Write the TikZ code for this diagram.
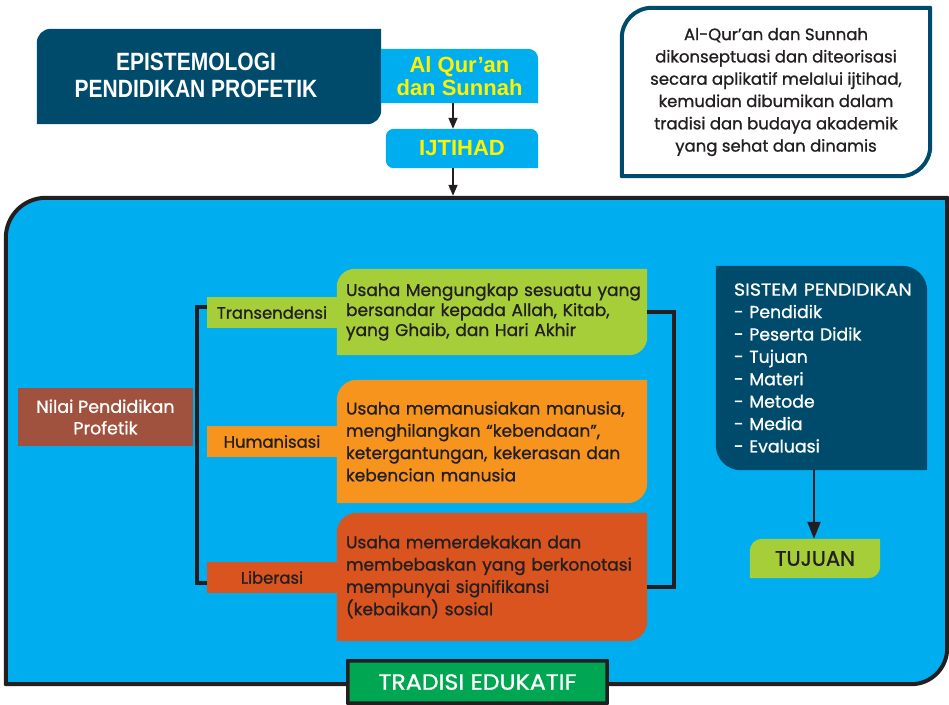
\documentclass[tikz,border=0pt]{standalone}
\usepackage{fontspec}
\setmainfont{Poppins}[UprightFeatures={FakeBold=1}]
\newfontfamily\headfont[FakeStretch=0.84]{Liberation Sans}
\newfontfamily\yelfont{Liberation Sans}
\usetikzlibrary{calc,arrows.meta}
\definecolor{dteal}{HTML}{004B6B}
\definecolor{cyanb}{HTML}{00AEEF}
\definecolor{yel}{HTML}{FFF200}
\definecolor{lgreen}{HTML}{A6CE39}
\definecolor{orng}{HTML}{F7941D}
\definecolor{dorng}{HTML}{D9541E}
\definecolor{brwn}{HTML}{A0523F}
\definecolor{tgreen}{HTML}{00A651}
\definecolor{ink}{HTML}{231F20}
\pgfdeclarelayer{bg}
\pgfsetlayers{bg,main}
\newcommand\cornerbox[6]{%
  \path[#2] ($(#1.north west)+(0,-#3)$) arc[start angle=180,end angle=90,radius=#3]
   -- ($(#1.north east)+(-#4,0)$) arc[start angle=90,end angle=0,radius=#4]
   -- ($(#1.south east)+(0,#5)$) arc[start angle=0,end angle=-90,radius=#5]
   -- ($(#1.south west)+(#6,0)$) arc[start angle=270,end angle=180,radius=#6]
   -- cycle;}
\begin{document}
\begin{tikzpicture}[x=1pt,y=1pt,
  shp/.style n args={2}{inner sep=0pt, minimum width=#1, minimum height=#2},
  arr/.style={-{Triangle[width=9pt,length=11pt]}, line width=1.6pt, draw=ink},
  bigarr/.style={-{Triangle[width=13pt,length=17pt]}, line width=2.2pt, draw=ink},
  brk/.style={line width=3.5pt, draw=ink, line join=miter},
  desc/.style={text=ink, align=left, text width=292pt, font=\fontsize{17}{22.3}\selectfont},
  lab/.style={text=ink, font=\fontsize{16.4}{19}\selectfont}]
\useasboundingbox (0,0) rectangle (949,-704);

% nodes
\node[shp={344pt}{95pt}, text=white, align=center, font=\headfont\bfseries\fontsize{25}{27}\selectfont] (epi) at (209,-76.5) {\raisebox{3pt}{\hspace*{-26pt}EPISTEMOLOGI}\\\raisebox{3pt}{\hspace*{-26pt}PENDIDIKAN PROFETIK}};
\node[shp={157pt}{54pt}, text=yel, align=center, font=\yelfont\bfseries\fontsize{22}{23}\selectfont] (quran) at (459.5,-76) {Al Qur’an\\dan Sunnah};
\node[shp={152pt}{39pt}, text=yel, font=\yelfont\bfseries\fontsize{22}{23}\selectfont] (ijtihad) at (462,-148.5) {IJTIHAD};
\node[shp={308pt}{168pt}, text=ink, align=center, font=\fontsize{16.5}{22.3}\selectfont] (callout) at (776,-92) {Al-Qur’an dan Sunnah\\dikonseptuasi dan diteorisasi\\secara aplikatif melalui ijtihad,\\kemudian dibumikan dalam\\tradisi dan budaya akademik\\yang sehat dan dinamis};
\node[shp={941pt}{486pt}] (big) at (476.5,-441) {};
\node[shp={175pt}{58pt}, text=white, align=center, font=\fontsize{17.5}{21.5}\selectfont] (nilai) at (105.5,-417) {Nilai Pendidikan\\Profetik};
\node[shp={130pt}{31pt}, lab] (tlab) at (272,-312.5) {Transendensi};
\node[shp={130pt}{31pt}, lab] (hlab) at (272,-441.5) {Humanisasi};
\node[shp={130pt}{31pt}, lab] (llab) at (272,-577.5) {Liberasi};
\node[shp={310pt}{86pt}, desc, font=\fontsize{17}{20}\selectfont] (tbox) at (492,-312) {\mbox{Usaha Mengungkap sesuatu yang}\\\mbox{bersandar kepada Allah, Kitab,}\\\mbox{yang Ghaib, dan Hari Akhir}};
\node[shp={310pt}{123pt}, desc] (hbox) at (492,-441.5) {\mbox{Usaha memanusiakan manusia,}\\\mbox{menghilangkan “kebendaan”,}\\\mbox{ketergantungan, kekerasan dan}\\\mbox{kebencian manusia}};
\node[shp={310pt}{128pt}, desc] (lbox) at (492,-577) {\raisebox{3pt}{\mbox{Usaha memerdekakan dan}}\\\raisebox{3pt}{\mbox{membebaskan yang berkonotasi}}\\\raisebox{3pt}{\mbox{mempunyai signifikansi}}\\\raisebox{3pt}{\mbox{(kebaikan) sosial}}};
\node[shp={211pt}{204pt}, text=white, align=left, text width=175pt, font=\fontsize{17.3}{22.4}\selectfont] (sistem) at (821.5,-368) {\mbox{\scalebox{1.1}[1]{SISTEM PENDIDIKAN}}\\- Pendidik\\- Peserta Didik\\- Tujuan\\- Materi\\- Metode\\- Media\\- Evaluasi};
\node[shp={130pt}{39pt}, text=ink, font=\fontsize{21}{22}\selectfont] (tujuan) at (815,-558.5) {TUJUAN};
\node[shp={259pt}{42pt}, text=white, font=\fontsize{22}{22}\selectfont] (tradisi) at (477.5,-682) {\scalebox{1.08}[1]{TRADISI EDUKATIF}};

% shapes
\begin{pgfonlayer}{bg}
\cornerbox{big}{fill=cyanb, draw=ink, line width=4pt}{40pt}{0.01pt}{36pt}{0.01pt}
\cornerbox{epi}{fill=dteal}{14pt}{0.01pt}{14pt}{0.01pt}
\cornerbox{quran}{fill=cyanb}{0.01pt}{10pt}{0.01pt}{0.01pt}
\cornerbox{ijtihad}{fill=cyanb}{8pt}{8pt}{0.01pt}{8pt}
\cornerbox{callout}{fill=white, draw=dteal, line width=4pt}{30pt}{0.01pt}{30pt}{0.01pt}
\fill[brwn] (nilai.south west) rectangle (nilai.north east);
\fill[lgreen] (tlab.south west) rectangle (tlab.north east);
\fill[orng] (hlab.south west) rectangle (hlab.north east);
\fill[dorng] (llab.south west) rectangle (llab.north east);
\cornerbox{tbox}{fill=lgreen}{18pt}{0.01pt}{18pt}{0.01pt}
\cornerbox{hbox}{fill=orng}{20pt}{0.01pt}{20pt}{0.01pt}
\cornerbox{lbox}{fill=dorng}{20pt}{0.01pt}{20pt}{0.01pt}
\cornerbox{sistem}{fill=dteal}{0.01pt}{25pt}{0.01pt}{25pt}
\cornerbox{tujuan}{fill=lgreen}{12pt}{0.01pt}{12pt}{0.01pt}
\cornerbox{tradisi}{fill=tgreen, draw=ink, line width=3.5pt}{0.01pt}{0.01pt}{0.01pt}{0.01pt}
\end{pgfonlayer}

% connectors
\draw[arr] ([xshift=-6.5pt]quran.south) -- ([xshift=-9pt]ijtihad.north);
\draw[arr] ([xshift=-9pt]ijtihad.south) -- ([xshift=-23.5pt,yshift=2pt]big.north);
\draw[brk] ([yshift=5.5pt]tlab.west) -- ++(-10pt,0) |- ([yshift=-5.5pt]llab.west);
\draw[brk] (tbox.east) -- ++(27pt,0) |- ([yshift=-10pt]lbox.east);
\draw[bigarr] ([xshift=-7.5pt]sistem.south) -- ([xshift=-1pt]tujuan.north);
\end{tikzpicture}
\end{document}
